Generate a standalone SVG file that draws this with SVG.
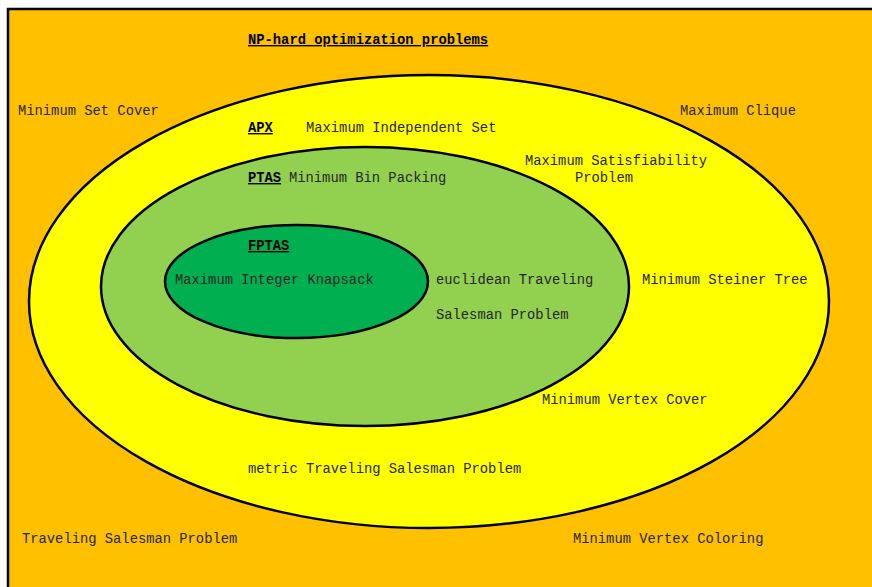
<svg xmlns="http://www.w3.org/2000/svg" width="872" height="587" viewBox="0 0 872 587">
<style>
.t{font-family:"Liberation Mono","Courier New",monospace;font-size:13.8px;fill:#262626}
.b{font-weight:bold;text-decoration:underline;fill:#000}
.e{stroke:#000;stroke-width:2.5}
</style>
<rect x="0" y="0" width="872" height="587" fill="#fff"/>
<g id="np-hard">
<rect x="8" y="9" width="880" height="600" fill="#FFC000" stroke="#000" stroke-width="2.5"/>
<text class="t b" x="248" y="44">NP-hard optimization problems</text>
<text class="t" x="18" y="115">Minimum Set Cover</text>
<text class="t" x="680" y="115">Maximum Clique</text>
<text class="t" x="22" y="543">Traveling Salesman Problem</text>
<text class="t" x="573" y="543">Minimum Vertex Coloring</text>
</g>
<g id="apx">
<ellipse class="e" cx="429" cy="301.5" rx="400" ry="226.5" fill="#FFFF00"/>
<text class="t b" x="248" y="132">APX</text>
<text class="t" x="306" y="132">Maximum Independent Set</text>
<text class="t" x="525" y="165">Maximum Satisfiability</text>
<text class="t" x="575" y="182">Problem</text>
<text class="t" x="642" y="284">Minimum Steiner Tree</text>
<text class="t" x="248" y="473">metric Traveling Salesman Problem</text>
</g>
<g id="ptas">
<ellipse class="e" cx="365" cy="286.5" rx="264" ry="139.5" fill="#92D050"/>
<text class="t b" x="248" y="182">PTAS</text>
<text class="t" x="289" y="182">Minimum Bin Packing</text>
<text class="t" x="436" y="284">euclidean Traveling</text>
<text class="t" x="436" y="319">Salesman Problem</text>
<text class="t" x="542" y="404">Minimum Vertex Cover</text>
</g>
<g id="fptas">
<ellipse class="e" cx="296.5" cy="281.5" rx="131.5" ry="56.5" fill="#00B050"/>
<text class="t b" x="248" y="250">FPTAS</text>
<text class="t" x="175" y="284">Maximum Integer Knapsack</text>
</g>
<g id="connectors"/>
</svg>
